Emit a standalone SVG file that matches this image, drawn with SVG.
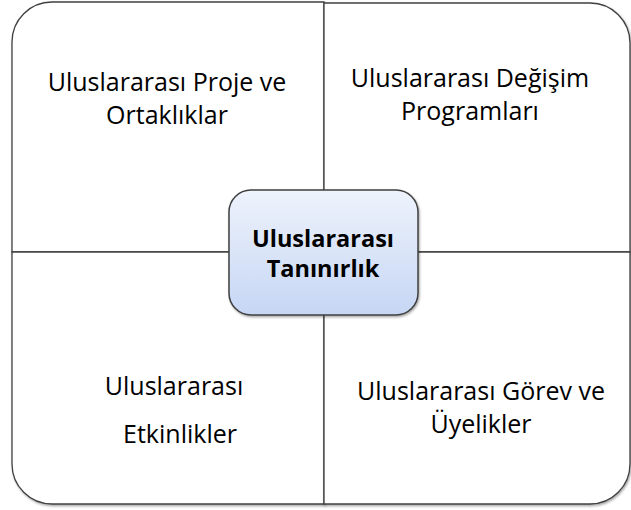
<svg xmlns="http://www.w3.org/2000/svg" width="631" height="510" viewBox="0 0 631 510">
<defs>
<linearGradient id="cg" x1="0" y1="0" x2="0" y2="1">
<stop offset="0" stop-color="#eef3fc"/>
<stop offset="1" stop-color="#c6d6f4"/>
</linearGradient>
<filter id="sh" x="-10%" y="-10%" width="120%" height="120%">
<feDropShadow dx="1" dy="1.5" stdDeviation="1" flood-color="#000" flood-opacity="0.35"/>
</filter>
</defs>
<style>
.q{fill:#fff;stroke:#404040;stroke-width:1.3;filter:url(#sh)}
.t{font-family:"Open Sans","Liberation Sans",sans-serif;font-size:25px;fill:#000;text-anchor:middle}
.b{font-family:"Open Sans","Liberation Sans",sans-serif;font-size:23.5px;font-weight:bold;fill:#000;text-anchor:middle}
</style>
<g id="q-tl">
<path class="q" d="M12,252 V42 A40,40 0 0 1 52,2 H324 V252 Z"/>
<text class="t" x="167" y="91">Uluslararası Proje ve</text>
<text class="t" x="167" y="124">Ortaklıklar</text>
</g>
<g id="q-tr">
<path class="q" d="M324,3 H590 A40,40 0 0 1 630,43 V252 H324 Z"/>
<text class="t" x="470" y="87">Uluslararası Değişim</text>
<text class="t" x="470" y="120">Programları</text>
</g>
<g id="q-bl">
<path class="q" d="M12,252 H324 V504 H52 A40,40 0 0 1 12,464 Z"/>
<text class="t" x="174" y="395">Uluslararası</text>
<text class="t" x="180" y="443">Etkinlikler</text>
</g>
<g id="q-br">
<path class="q" d="M324,252 H630 V464 A40,40 0 0 1 590,504 H324 Z"/>
<text class="t" x="481" y="400">Uluslararası Görev ve</text>
<text class="t" x="481" y="433">Üyelikler</text>
</g>
<g id="connectors"></g>
<g id="center">
<rect x="229" y="190" width="189" height="125" rx="22" fill="url(#cg)" stroke="#404040" stroke-width="1.5" filter="url(#sh)"/>
<text class="b" x="323" y="247">Uluslararası</text>
<text class="b" x="323" y="277">Tanınırlık</text>
</g>
</svg>
